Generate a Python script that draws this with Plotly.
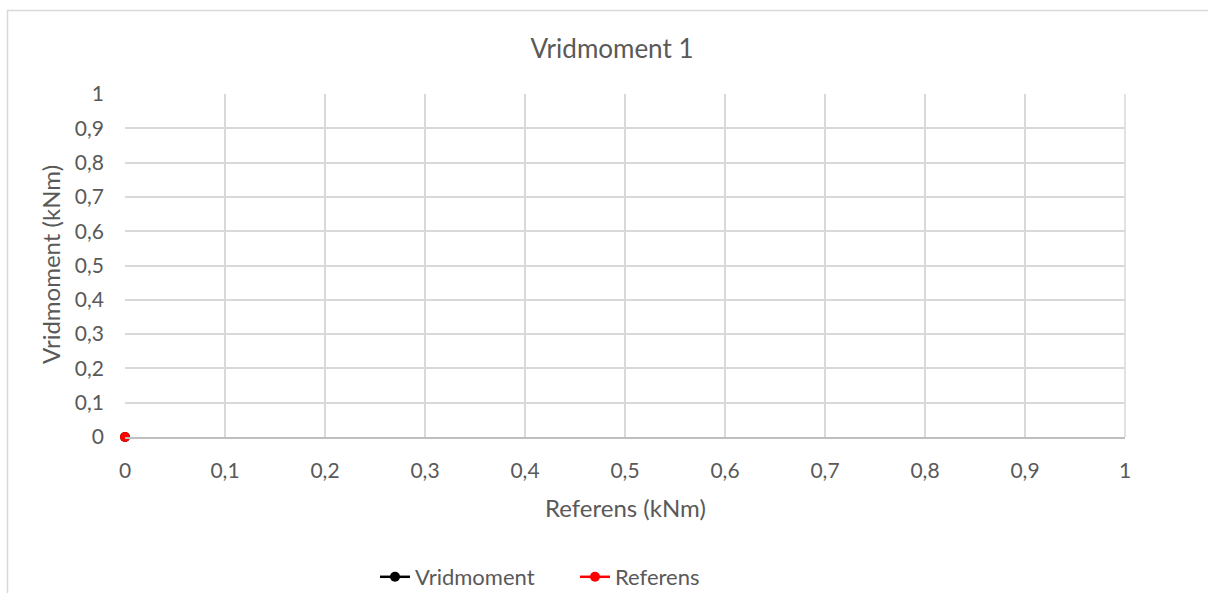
import plotly.graph_objects as go

# Data
series_names = ["Vridmoment", "Referens"]
series_colors = ["#000000", "#ff0000"]
referens_x = [0.0]
vridmoment_y = [0.0]
referens_y = [0.0]
axis_ticks = [0, 0.1, 0.2, 0.3, 0.4, 0.5, 0.6, 0.7, 0.8, 0.9, 1]

FONT = "Lato, 'Open Sans', sans-serif"
TXT = "#595959"

fig = go.Figure()
for name, color, ys in zip(series_names, series_colors, [vridmoment_y, referens_y]):
    fig.add_trace(go.Scatter(
        x=referens_x, y=ys, name=name, mode="lines+markers",
        line=dict(color=color, width=2.5),
        marker=dict(color=color, size=10),
        cliponaxis=False,
    ))

W, H = 1208, 593
L, R, T, B = 125, 1125, 94, 437
pw, ph = R - L, B - T

def px(x):
    return (x - L) / pw

def py(y):
    return (B - y) / ph

fig.update_layout(
    width=W, height=H,
    margin=dict(l=L, r=W - R, t=T, b=H - B, autoexpand=False),
    paper_bgcolor="white", plot_bgcolor="white",
    separators=", ",
    font=dict(family=FONT, color=TXT, size=21),
    title=dict(text="Vridmoment 1", x=px(612), xanchor="center", xref="paper",
               y=1 - 49 / H, yanchor="middle",
               font=dict(size=26, color=TXT, family=FONT)),
    xaxis=dict(range=[0, 1], tickvals=axis_ticks, showgrid=True, gridcolor="#d9d9d9",
               gridwidth=1.5, zeroline=False, showline=True, linecolor="#bfbfbf", linewidth=1.5,
               ticks="", ticklabelstandoff=14, tickfont=dict(size=21, color=TXT),
               fixedrange=True),
    yaxis=dict(range=[0, 1], tickvals=axis_ticks, showgrid=True, gridcolor="#d9d9d9",
               gridwidth=1.5, zeroline=False, showline=False,
               ticks="", ticklabelstandoff=20, tickfont=dict(size=21, color=TXT),
               fixedrange=True),
    legend=dict(orientation="h", x=px(375), xanchor="left", y=py(577), yanchor="middle",
                font=dict(size=22, color=TXT), traceorder="normal",
                entrywidth=155, entrywidthmode="pixels", itemwidth=30,
                bgcolor="rgba(0,0,0,0)"),
    showlegend=True,
    annotations=[
        dict(text="Referens (kNm)", xref="paper", yref="paper", x=px(625), y=py(507),
             xanchor="center", yanchor="middle", showarrow=False,
             font=dict(size=24, color=TXT, family=FONT)),
        dict(text="Vridmoment (kNm)", xref="paper", yref="paper", x=px(50), y=py(265),
             xanchor="center", yanchor="middle", showarrow=False, textangle=-90,
             font=dict(size=24, color=TXT, family=FONT)),
    ],
    shapes=[
        dict(type="rect", xref="paper", yref="paper", x0=px(7.5), x1=px(1215), y0=py(10.5), y1=py(700),
             line=dict(color="#d9d9d9", width=1.5), fillcolor="rgba(0,0,0,0)", layer="below"),
        dict(type="line", xref="paper", yref="paper", x0=1, x1=1, y0=0, y1=1,
             line=dict(color="#d9d9d9", width=1.5)),
    ],
)

fig.write_html("out.html", config={"displayModeBar": False},
               post_script="document.body.style.margin='0';document.body.style.overflow='hidden';")
